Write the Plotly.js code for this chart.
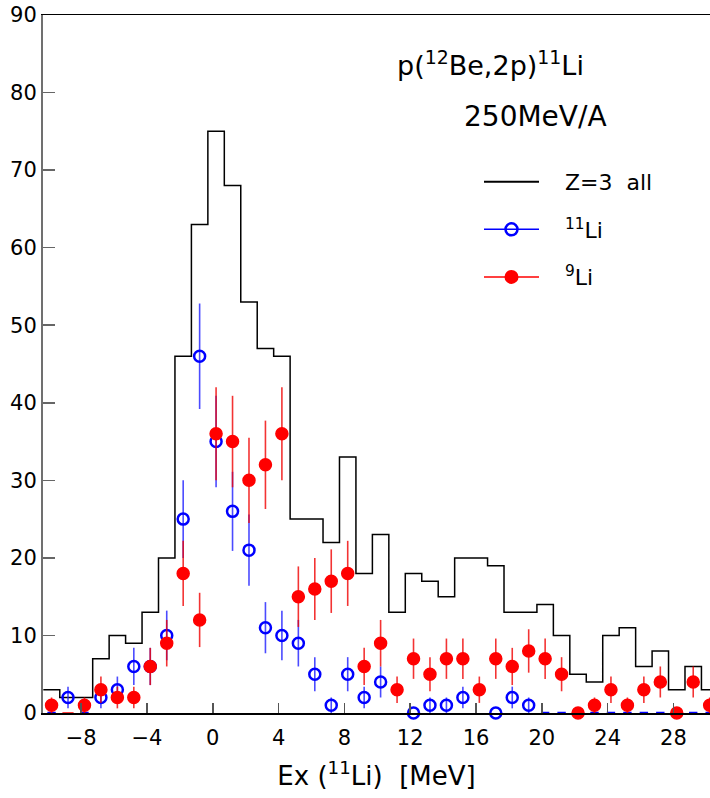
<!DOCTYPE html>
<html>
<head>
<meta charset="utf-8">
<script src="https://cdn.plot.ly/plotly-3.0.1.min.js"></script>
<style>html,body{margin:0;padding:0;overflow:hidden;background:#fff}</style>
</head>
<body>
<div id="chart" style="width:710px;height:798px"></div>
<script>
// Bin centres (MeV), 1 MeV bins
const binCenters = [-9.8,-8.8,-7.8,-6.8,-5.8,-4.8,-3.8,-2.8,-1.8,-0.8,0.2,1.2,2.2,3.2,4.2,5.2,6.2,7.2,8.2,9.2,10.2,11.2,12.2,13.2,14.2,15.2,16.2,17.2,18.2,19.2,20.2,21.2,22.2,23.2,24.2,25.2,26.2,27.2,28.2,29.2,30.2];

// Z=3 all (histogram)
const zAll = [3,2,2,7,10,9,13,20,46,63,75,68,53,47,46,25,25,22,33,18,23,13,18,17,15,20,20,19,13,13,14,10,5,4,10,11,6,8,3,6,3];

// 11Li counts and errors
const li11 = [0,2,0,2,3,6,6,10,25,46,35,26,21,11,10,9,5,1,5,2,4,null,0,1,1,2,null,0,2,1,0,0,0,0,0,0,0,0,0,0,0];
const li11Err = [0,1.4,0,1.4,1.7,2.4,2.4,3.2,5,6.8,5.9,5.1,4.6,3.3,3.2,3,2.2,1,2.2,1.4,2,null,0,1,1,1.4,null,0,1.4,1,0,0,0,0,0,0,0,0,0,0,0];

// 9Li counts and errors
const li9 = [1,0,1,3,2,2,6,9,18,12,36,35,30,32,36,15,16,17,18,6,9,3,7,5,7,7,3,7,6,8,7,5,0,1,3,1,3,4,0,4,1];
const li9Err = [1,0,1,1.7,1.4,1.4,2.4,3,4.2,3.5,6,5.9,5.5,5.7,6,3.9,4,4.1,4.2,2.4,3,1.7,2.6,2.2,2.6,2.6,1.7,2.6,2.4,2.8,2.6,2.2,0,1,1.7,1,1.7,2,0,2,1];

const xTickVals = [-8,-4,0,4,8,12,16,20,24,28];
const xTickText = ['\u22128','\u22124','0','4','8','12','16','20','24','28'];
const yTickVals = [0,10,20,30,40,50,60,70,80,90];

// histogram step path built from bin centres (left edges + closing edge)
const binW = 1;
const histX = binCenters.map(c => c - binW/2).concat([binCenters[binCenters.length-1] + binW/2]);
const histY = zAll.concat([zAll[zAll.length-1]]);

// empty bins at the ends of the spectrum drawn as short dashes
const isEdgeBin = x => (x < -7 || x >= 20);
const blueSym = li11.map((v,i) => (v === 0 && isEdgeBin(binCenters[i])) ? 'line-ew' : 'circle-open');
const blueSize = blueSym.map(s => s === 'line-ew' ? 6 : 11);
const redSym = li9.map((v,i) => (v === 0 && binCenters[i] < -7) ? 'line-ew' : 'circle');
const redSize = redSym.map(s => s === 'line-ew' ? 8 : 12);

const FONT = 'DejaVu Sans, Verdana, sans-serif';
const PAD = '\u00a0\u00a0\u00a0';

const traces = [
  {
    x: histX, y: histY, type: 'scatter', mode: 'lines',
    line: {shape: 'hv', color: '#000', width: 1.5},
    showlegend: false, hoverinfo: 'skip'
  },
  {
    x: binCenters, y: li11, type: 'scatter', mode: 'markers',
    marker: {symbol: blueSym, size: blueSize, opacity: 1, color: '#0000ff', line: {color: '#0000ff', width: 2.5}},
    error_y: {type: 'data', array: li11Err, visible: true, color: 'rgba(30,30,255,0.8)', thickness: 1.6, width: 0},
    cliponaxis: false, showlegend: false
  },
  {
    x: binCenters, y: li9, type: 'scatter', mode: 'markers',
    marker: {symbol: redSym, size: redSize, opacity: 1, color: '#ff0000', line: {color: '#ff0000', width: 1.5}},
    error_y: {type: 'data', array: li9Err, visible: true, color: 'rgba(240,0,0,0.8)', thickness: 1.6, width: 0},
    cliponaxis: false, showlegend: false
  },
  // legend entries
  {x: [null], y: [null], type: 'scatter', mode: 'lines', name: PAD + 'Z=3  all',
   line: {color: '#000', width: 2}, legendgroup: 'a'},
  {x: [null], y: [null], type: 'scatter', mode: 'lines+markers', name: PAD + '<sup>11</sup>Li',
   line: {color: '#0000ff', width: 1.5}, marker: {symbol: 'circle-open', size: 12, color: '#0000ff', line: {width: 2.5}}, legendgroup: 'b'},
  {x: [null], y: [null], type: 'scatter', mode: 'lines+markers', name: PAD + '<sup>9</sup>Li',
   line: {color: '#ff0000', width: 1.5}, marker: {symbol: 'circle', size: 14, color: '#ff0000'}, legendgroup: 'c'}
];

const layout = {
  width: 710, height: 798,
  margin: {l: 43, r: 0, t: 15, b: 85},
  paper_bgcolor: '#fff', plot_bgcolor: '#fff',
  font: {family: FONT, color: '#000'},
  showlegend: true,
  legend: {
    x: (479-43)/667, y: 0.791, xanchor: 'left', yanchor: 'top',
    font: {family: FONT, size: 22, color: '#000'},
    bgcolor: 'rgba(0,0,0,0)', borderwidth: 0,
    tracegroupgap: 16, itemwidth: 55
  },
  xaxis: {
    range: [-10.32, 30.22],
    tickvals: xTickVals, ticktext: xTickText,
    ticks: 'inside', ticklen: 10, tickwidth: 1.5, tickcolor: '#555',
    showline: true, linecolor: '#000', linewidth: 1.5, mirror: true,
    showgrid: false, zeroline: false,
    tickfont: {family: FONT, size: 21, color: '#000'},
    ticklabelstandoff: 5,
    title: {text: 'Ex (<sup>11</sup>Li)  [MeV]', font: {family: FONT, size: 26, color: '#000'}, standoff: 18}
  },
  yaxis: {
    range: [0, 90],
    tickvals: yTickVals,
    ticks: 'inside', ticklen: 12, tickwidth: 1.5, tickcolor: '#666',
    showline: true, linecolor: '#707070', linewidth: 2, mirror: false,
    showgrid: false, zeroline: false,
    tickfont: {family: FONT, size: 21, color: '#000'},
    ticklabelstandoff: 0
  },
  annotations: [
    {text: 'p(<sup>12</sup>Be,2p)<sup>11</sup>Li', xref: 'paper', yref: 'paper',
     x: (490-43)/667, y: (713.3-64)/698.3, xanchor: 'center', yanchor: 'middle', showarrow: false,
     font: {family: FONT, size: 27, color: '#000'}},
    {text: '250MeV/A', xref: 'paper', yref: 'paper',
     x: (535-43)/667, y: (713.3-117)/698.3, xanchor: 'center', yanchor: 'middle', showarrow: false,
     font: {family: FONT, size: 28, color: '#000'}}
  ]
};

Plotly.newPlot('chart', traces, layout, {staticPlot: true, displayModeBar: false});
</script>
</body>
</html>
